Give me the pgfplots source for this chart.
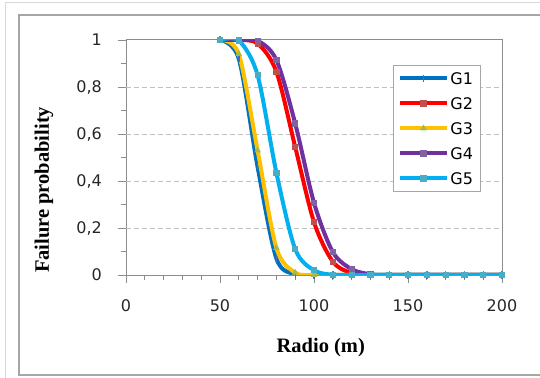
\documentclass[border=0pt]{standalone}
\usepackage{fontspec}
\setmainfont{DejaVu Sans}
\newfontfamily\lblfont{Liberation Serif}
\usepackage{pgfplots}
\pgfplotsset{compat=1.18}
\definecolor{cGa}{HTML}{0070C0}
\definecolor{cGb}{HTML}{FF0000}
\definecolor{cGc}{HTML}{FFC000}
\definecolor{cGd}{HTML}{7030A0}
\definecolor{cGe}{HTML}{00B0F0}
\definecolor{mGa}{HTML}{3F72B5}
\definecolor{mGb}{HTML}{C0504D}
\definecolor{mGc}{HTML}{9BBB59}
\definecolor{mGd}{HTML}{8064A2}
\definecolor{mGe}{HTML}{4BACC6}
\definecolor{axc}{HTML}{8C8C8C}
\definecolor{gridc}{HTML}{BFBFBF}
\definecolor{outerc}{HTML}{D9D9D9}
\definecolor{innerc}{HTML}{A6A6A6}
\begin{document}
\begin{tikzpicture}
\path[use as bounding box] (0bp,0bp) rectangle (540bp,378bp);
\draw[color=outerc, line width=1bp] (5.5bp,-5bp) -- (5.5bp,375.5bp) -- (560bp,375.5bp);
\draw[color=innerc, line width=1.8bp] (19bp,3bp) rectangle (560bp,363bp);
\begin{axis}[
  at={(126bp,103bp)}, anchor=south west,
  scale only axis, width=376bp, height=235bp,
  xmin=0, xmax=200, ymin=0, ymax=1,
  xtick={0,50,100,150,200},
  ytick={0,0.2,0.4,0.6,0.8,1},
  extra y ticks={0.2,0.4,0.6,0.8},
  extra y tick labels={},
  extra y tick style={ymajorgrids=true, major tick length=0pt},
  minor x tick num=4, minor y tick num=1,
  xtick pos=bottom, ytick pos=left,
  tick align=outside,
  major tick length=8bp, minor tick length=5bp,
  every tick/.style={color=axc, line width=0.8bp},
  axis line style={color=axc, line width=1bp},
  major grid style={color=gridc, dash pattern=on 5bp off 3bp, line width=0.8bp},
  /pgf/number format/.cd, use comma, 1000 sep={}, assume math mode=true,
  /pgfplots/.cd,
  ticklabel style={font=\fontsize{16bp}{19bp}\selectfont, color=black!85},
  xticklabel style={anchor=north, inner sep=0pt, yshift=-16bp},
  yticklabel style={anchor=east, inner sep=0pt, xshift=-16bp},
  xlabel={\lblfont\bfseries Radio (m)},
  ylabel={\lblfont\bfseries Failure probability},
  xlabel style={font=\fontsize{20.5bp}{24bp}\selectfont, at={(axis description cs:0.518,-0.31)}, anchor=center},
  ylabel style={font=\fontsize{20.5bp}{24bp}\selectfont, at={(axis description cs:-0.218,0.362)}, anchor=center},
  legend style={at={(axis description cs:0.7101,0.8936)}, anchor=north west,
    draw=innerc, line width=1bp, inner sep=5bp, row sep=9.3bp,
    font=\fontsize{16bp}{19bp}\selectfont,
    nodes={inner sep=2bp, text height=11.7bp, text depth=0bp}},
  legend cell align=left,
  legend image code/.code={\draw[mark repeat=2, mark phase=2, #1] plot coordinates {(0bp,0bp) (23bp,0bp) (46bp,0bp)};},
]
\addplot[color=cGa, line width=4bp, smooth, mark=|, mark options={solid, draw=mGa, line width=1.4bp, mark size=3.5bp}] coordinates {
(50,1) (60,0.92) (70,0.46) (80,0.07) (90,0.003) (100,0) (110,0) (120,0) (130,0) (140,0) (150,0) (160,0) (170,0) (180,0) (190,0) (200,0)};
\addlegendentry{G1}
\addplot[color=cGb, line width=4bp, smooth, mark=square*, mark options={solid, line width=0.8bp, mark size=2.6bp, draw=mGb, fill=mGb}] coordinates {
(50,1) (60,1) (70,0.985) (80,0.865) (90,0.545) (100,0.225) (110,0.057) (120,0.008) (130,0) (140,0) (150,0) (160,0) (170,0) (180,0) (190,0) (200,0)};
\addlegendentry{G2}
\addplot[color=cGc, line width=4bp, smooth, mark=triangle*, mark options={solid, line width=0.8bp, draw=mGc, fill=mGc, mark size=3bp}] coordinates {
(50,1) (60,0.94) (70,0.53) (80,0.115) (90,0.01) (100,0) (110,0) (120,0) (130,0) (140,0) (150,0) (160,0) (170,0) (180,0) (190,0) (200,0)};
\addlegendentry{G3}
\addplot[color=cGd, line width=4bp, smooth, mark=square*, mark options={solid, line width=0.8bp, mark size=2.6bp, draw=mGd, fill=mGd}] coordinates {
(50,1) (60,1) (70,0.997) (80,0.915) (90,0.645) (100,0.307) (110,0.098) (120,0.025) (130,0.003) (140,0) (150,0) (160,0) (170,0) (180,0) (190,0) (200,0)};
\addlegendentry{G4}
\addplot[color=cGe, line width=4bp, smooth, mark=square*, mark options={solid, line width=0.8bp, mark size=2.6bp, draw=mGe, fill=mGe}] coordinates {
(50,1) (60,0.998) (70,0.85) (80,0.435) (90,0.11) (100,0.02) (110,0.001) (120,0) (130,0) (140,0) (150,0) (160,0) (170,0) (180,0) (190,0) (200,0)};
\addlegendentry{G5}
\end{axis}
\end{tikzpicture}
\end{document}
